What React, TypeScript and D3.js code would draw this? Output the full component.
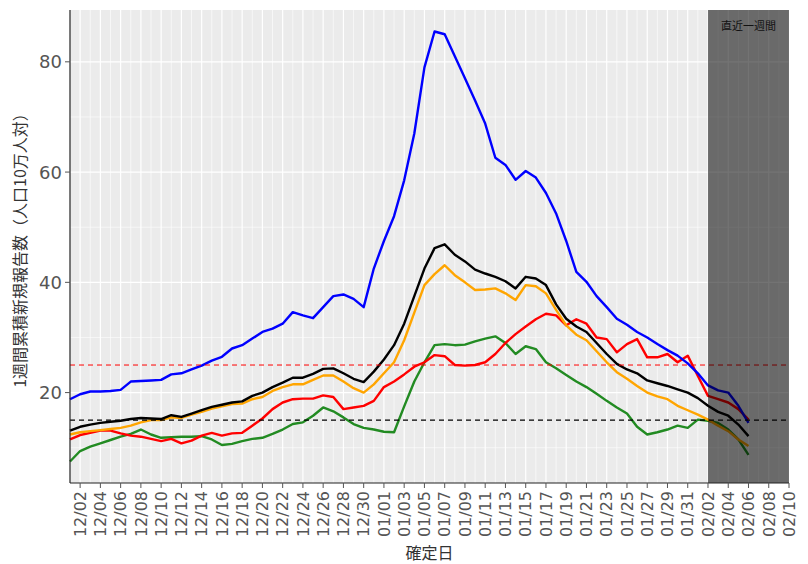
import React from 'react';
import * as d3 from 'd3';

// daily values from 12/01 to 02/06 (1週間累積新規報告数, 人口10万人対)
const START = new Date(Date.UTC(2020, 11, 1));
const END = new Date(Date.UTC(2021, 1, 10));
const RECENT_START = new Date(Date.UTC(2021, 1, 2));

const blueValues = [
  18.8, 19.7, 20.2, 20.2, 20.3, 20.5, 22.0, 22.1, 22.2, 22.3,
  23.3, 23.5, 24.2, 24.9, 25.8, 26.5, 28.0, 28.6, 29.8, 31.0,
  31.6, 32.5, 34.6, 34.0, 33.5, 35.5, 37.5, 37.8, 37.0, 35.5,
  42.5, 47.5, 52.0, 58.5, 67.0, 79.0, 85.5, 85.0, 81.0, 77.0,
  73.0, 68.8, 62.6, 61.3, 58.6, 60.2, 59.0, 56.2, 52.5, 47.5,
  41.9, 40.1, 37.5, 35.5, 33.4, 32.3, 31.0, 30.0, 28.8, 27.7,
  26.7, 25.3, 23.5, 21.3, 20.4, 20.0, 17.6, 14.5,
];
const blackValues = [
  13.1, 13.8, 14.2, 14.5, 14.7, 14.9, 15.2, 15.4, 15.3, 15.2,
  15.9, 15.6, 16.2, 16.8, 17.4, 17.8, 18.2, 18.4, 19.4, 20.0,
  21.0, 21.8, 22.7, 22.7, 23.4, 24.3, 24.4, 23.5, 22.5, 21.9,
  23.8, 26.0, 28.6, 32.5, 37.5, 42.5, 46.2, 46.9, 45.0, 43.8,
  42.3, 41.6, 41.0, 40.2, 38.9, 41.0, 40.7, 39.5, 36.0, 33.4,
  32.0, 31.0, 29.0, 27.0, 25.2, 24.2, 23.5, 22.2, 21.7, 21.2,
  20.6, 20.0, 19.0, 17.6, 16.5, 15.8, 14.2, 12.1,
];
const orangeValues = [
  12.4, 12.8, 13.0, 13.2, 13.4, 13.6, 14.0, 14.6, 15.0, 15.0,
  15.5, 15.4, 16.0, 16.5, 17.1, 17.5, 17.9, 18.0, 18.8, 19.2,
  20.3, 21.0, 21.5, 21.5, 22.3, 23.1, 23.1, 22.0, 20.8, 20.0,
  21.5, 23.5, 25.5, 29.5, 34.5, 39.5, 41.5, 43.1, 41.3, 40.0,
  38.6, 38.7, 38.9, 38.0, 36.8, 39.5, 39.3, 38.0, 35.0, 32.2,
  30.5, 29.5, 27.5, 25.5, 23.7, 22.5, 21.2, 20.0, 19.3, 18.8,
  17.6, 16.8, 16.0, 15.1, 14.0, 13.0, 11.5, 10.3,
];
const redValues = [
  11.5, 12.3, 12.7, 13.1, 13.1, 12.6, 12.2, 12.0, 11.6, 11.2,
  11.6, 10.8, 11.3, 12.2, 12.7, 12.2, 12.6, 12.7, 14.0, 15.3,
  17.0, 18.2, 18.8, 18.9, 18.9, 19.5, 19.2, 17.0, 17.3, 17.6,
  18.5, 21.0, 22.0, 23.3, 24.7, 25.5, 26.8, 26.6, 25.0, 24.9,
  25.0, 25.5, 27.0, 29.0, 30.6, 32.0, 33.3, 34.3, 34.0, 32.2,
  33.3, 32.5, 30.0, 29.7, 27.3, 28.8, 29.7, 26.4, 26.4, 27.0,
  25.5, 26.7, 23.0, 19.4, 18.8, 18.2, 17.0, 15.1,
];
const greenValues = [
  7.5, 9.4, 10.2, 10.8, 11.4, 12.0, 12.5, 13.3, 12.4, 11.8,
  11.9, 12.0, 12.0, 12.1, 11.5, 10.5, 10.7, 11.2, 11.6, 11.8,
  12.5, 13.3, 14.3, 14.6, 15.8, 17.3, 16.6, 15.5, 14.3, 13.6,
  13.3, 12.9, 12.8, 17.5, 22.0, 25.5, 28.6, 28.8, 28.6, 28.7,
  29.3, 29.8, 30.2, 29.0, 27.0, 28.4, 27.9, 25.5, 24.4, 23.2,
  22.0, 21.0, 19.8, 18.5, 17.3, 16.2, 13.8, 12.4, 12.8, 13.3,
  14.0, 13.6, 15.1, 14.9, 14.5, 13.3, 11.5, 8.7,
];

const seriesList = [
  { name: 'green', color: '#228B22', values: greenValues },
  { name: 'red', color: '#FF0000', values: redValues },
  { name: 'orange', color: '#FFA500', values: orangeValues },
  { name: 'blue', color: '#0000FF', values: blueValues },
  { name: 'black', color: '#000000', values: blackValues },
];

const thresholds = [
  { value: 25, color: '#FF0000', width: 1 },
  { value: 15, color: '#000000', width: 1.4 },
];

const yTicks = [20, 40, 60, 80];
const yMinor = [10, 30, 50, 70];

const W = 808;
const H = 564;
const margin = { top: 10, right: 19, bottom: 81, left: 70 };

export default function App() {
  const pw = W - margin.left - margin.right;
  const ph = H - margin.top - margin.bottom;

  const dates = blueValues.map((_, i) => d3.utcDay.offset(START, i));

  const x = d3.scaleUtc().domain([START, END]).range([0, pw]);

  const all = seriesList.flatMap(s => s.values);
  const lo = d3.min(all)!;
  const hi = d3.max(all)!;
  const pad = (hi - lo) * 0.05;
  const y = d3.scaleLinear().domain([lo - pad, hi + pad]).range([ph, 0]);

  const nDays = d3.utcDay.count(START, END);
  const majorDates = d3.range(1, nDays + 1, 2).map(k => d3.utcDay.offset(START, k));
  const minorDates = d3.range(0, nDays + 1, 2).map(k => d3.utcDay.offset(START, k));
  const fmt = d3.utcFormat('%m/%d');

  const line = d3.line<number>()
    .x((_, i) => x(dates[i]))
    .y(d => y(d));

  const tickFont = '"DejaVu Sans", sans-serif';
  const jpFont = '"Noto Sans CJK JP", sans-serif';

  return (
    <svg width={W} height={H} style={{ position: 'absolute', left: 0, top: 0, background: '#fff' }}>
      <g transform={`translate(${margin.left},${margin.top})`}>
        <rect width={pw} height={ph} fill="#EBEBEB" />
        {/* grid */}
        {yMinor.map(v => (
          <line key={'ym' + v} x1={0} x2={pw} y1={y(v)} y2={y(v)} stroke="#fff" strokeWidth={0.6} />
        ))}
        {minorDates.map(d => (
          <line key={'xm' + d.getTime()} x1={x(d)} x2={x(d)} y1={0} y2={ph} stroke="#fff" strokeWidth={0.6} />
        ))}
        {yTicks.map(v => (
          <line key={'y' + v} x1={0} x2={pw} y1={y(v)} y2={y(v)} stroke="#fff" strokeWidth={1.2} />
        ))}
        {majorDates.map(d => (
          <line key={'x' + d.getTime()} x1={x(d)} x2={x(d)} y1={0} y2={ph} stroke="#fff" strokeWidth={1.2} />
        ))}

        {/* series */}
        {seriesList.map(s => (
          <path key={s.name} d={line(s.values)!} fill="none" stroke={s.color}
            strokeWidth={2.4} strokeLinejoin="round" strokeLinecap="butt" />
        ))}

        {/* thresholds */}
        {thresholds.map(t => (
          <line key={'t' + t.value} x1={0} x2={pw} y1={y(t.value)} y2={y(t.value)}
            stroke={t.color} strokeWidth={t.width} strokeDasharray="5 4" />
        ))}

        {/* recent week */}
        <rect x={x(RECENT_START)} y={0} width={x(END) - x(RECENT_START)} height={ph}
          fill="#000" fillOpacity={0.55} />
        <text x={(x(RECENT_START) + x(END)) / 2} y={20} textAnchor="middle"
          fontFamily={jpFont} fontSize={11} fill="#111">直近一週間</text>

        {/* axes */}
        <line x1={0} x2={0} y1={0} y2={ph} stroke="#222" strokeWidth={1.2} />
        <line x1={0} x2={pw} y1={ph} y2={ph} stroke="#222" strokeWidth={1.2} />
        {yTicks.map(v => (
          <g key={'yl' + v} transform={`translate(0,${y(v)})`}>
            <line x1={-5} x2={0} stroke="#555" strokeWidth={1} />
            <text x={-8} dy="0.36em" textAnchor="end" fontFamily={tickFont} fontSize={18} fill="#555">{v}</text>
          </g>
        ))}
        {majorDates.map(d => (
          <g key={'xl' + d.getTime()} transform={`translate(${x(d)},${ph})`}>
            <line y1={0} y2={5} stroke="#555" strokeWidth={1} />
            <text transform="rotate(-90)" x={-8} dy="0.36em" textAnchor="end"
              fontFamily={tickFont} fontSize={16} fill="#555">{fmt(d)}</text>
          </g>
        ))}
        <text x={pw / 2} y={ph + 76} textAnchor="middle" fontFamily={jpFont} fontSize={16} fill="#333">確定日</text>
        <text transform={`translate(${-50},${ph / 2}) rotate(-90)`} textAnchor="middle" dy="0.36em"
          fontFamily={jpFont} fontSize={16} fill="#333">1週間累積新規報告数（人口10万人対）</text>
      </g>
    </svg>
  );
}
